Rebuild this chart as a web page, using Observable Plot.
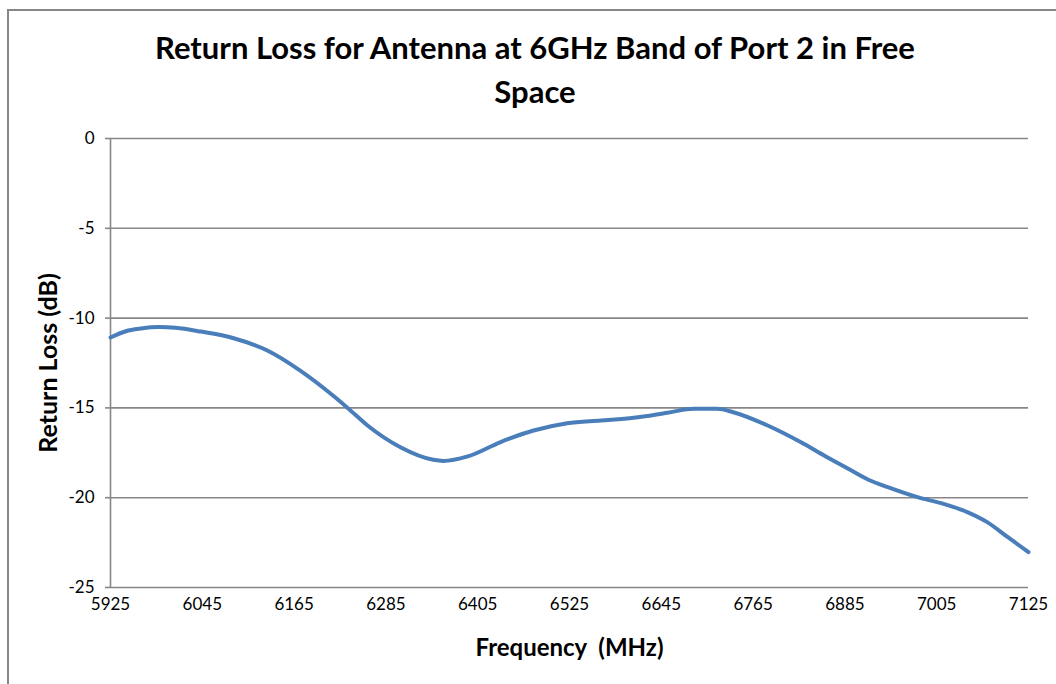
<!DOCTYPE html>
<html>
<head>
<meta charset="utf-8">
<script src="https://cdn.jsdelivr.net/npm/d3@7"></script>
<script src="https://cdn.jsdelivr.net/npm/@observablehq/plot@0.6"></script>
<style>
  html, body { margin: 0; padding: 0; background: #fff; }
  #wrap { position: relative; width: 1056px; height: 684px; overflow: hidden; font-family: Lato, "Open Sans", sans-serif; }
  #frame { position: absolute; left: 7px; top: 9px; width: 1200px; height: 900px; border-left: 2px solid #878787; border-top: 2px solid #878787; }
  #title { position: absolute; left: 8px; top: 25px; width: 1054px; text-align: center; font-weight: 700; font-size: 31px; line-height: 44px; color: #000; }
  #chart { position: absolute; left: 0; top: 0; }
</style>
</head>
<body>
<div id="wrap">
  <div id="frame"></div>
  <div id="chart"></div>
  <div id="title">Return Loss for Antenna at 6GHz Band of Port 2 in Free<br>Space</div>
</div>
<script>
const freq = [5925, 5945, 5965, 5988, 6010, 6043, 6086, 6130, 6173, 6217, 6235, 6261, 6304, 6347, 6360, 6392, 6435, 6478, 6522, 6566, 6609, 6653, 6687, 6718, 6739, 6784, 6827, 6860, 6890, 6918, 6941, 6980, 7014, 7045, 7071, 7098, 7125];
const returnLoss = [-11.08, -10.73, -10.58, -10.5, -10.54, -10.75, -11.12, -11.8, -12.92, -14.35, -15.0, -15.98, -17.19, -17.89, -17.95, -17.7, -16.9, -16.26, -15.85, -15.7, -15.55, -15.27, -15.05, -15.05, -15.24, -15.98, -16.9, -17.7, -18.4, -19.04, -19.41, -19.97, -20.34, -20.8, -21.36, -22.2, -23.03];
const xTicks = [5925, 6045, 6165, 6285, 6405, 6525, 6645, 6765, 6885, 7005, 7125];
const yTicks = [0, -5, -10, -15, -20, -25];
const xLabel = "Frequency  (MHz)";
const yLabel = "Return Loss (dB)";

const data = freq.map((f, i) => ({f, v: returnLoss[i]}));
const grid = "#878787";

const plot = Plot.plot({
  width: 1056,
  height: 684,
  marginLeft: 110,
  marginRight: 28,
  marginTop: 138,
  marginBottom: 97,
  style: {background: "transparent", fontFamily: "Lato, 'Open Sans', sans-serif", color: "#000"},
  x: {domain: [5925, 7125]},
  y: {domain: [-25, 0]},
  marks: [
    Plot.ruleY(yTicks, {stroke: grid, strokeWidth: 1.6, x1: 5925, x2: 7125}),
    Plot.ruleX([5925], {stroke: grid, strokeWidth: 1.6, y1: -25, y2: 0}),
    Plot.axisY({ticks: yTicks, tickSize: 5, tickPadding: 11, stroke: grid, strokeWidth: 1.6, strokeOpacity: 1,
      fontSize: 17, fill: "#000", label: null, tickFormat: d => String(d)}),
    Plot.axisX({ticks: xTicks, tickSize: 0, tickPadding: 10, fontSize: 17, fill: "#000", label: null, tickFormat: d => String(d)}),
    Plot.text([yLabel], {frameAnchor: "left", textAnchor: "middle", dx: -62, rotate: -90, fontSize: 25, fontWeight: "bold", fill: "#000"}),
    Plot.text([xLabel], {frameAnchor: "bottom", textAnchor: "middle", dy: 68, fontSize: 24, fontWeight: "bold", fill: "#000"}),
    Plot.line(data, {x: "f", y: "v", stroke: "#4a7ebb", strokeWidth: 4, curve: "monotone-x"})
  ]
});
document.getElementById("chart").appendChild(plot);
</script>
</body>
</html>
